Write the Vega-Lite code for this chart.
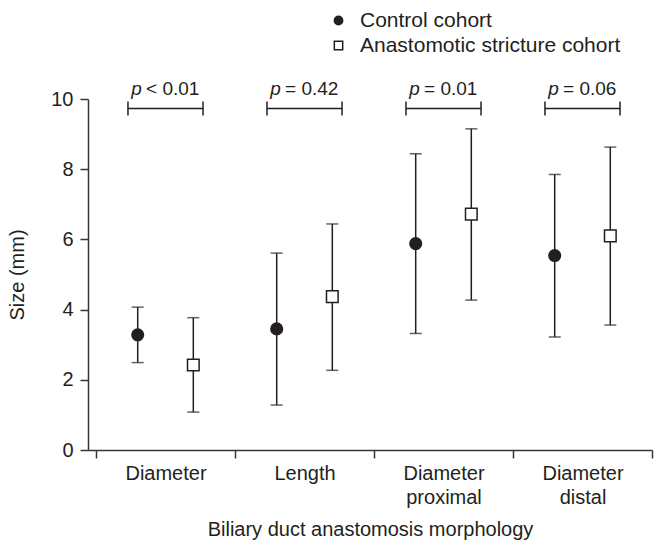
{
  "$schema": "https://vega.github.io/schema/vega-lite/v6.json",
  "width": 564,
  "height": 351,
  "autosize": {"type": "none"},
  "padding": {"left": 88, "top": 99, "right": 2, "bottom": 96},
  "config": {
    "font": "Liberation Sans",
    "view": {"stroke": null},
    "axis": {
      "labelFont": "Liberation Sans",
      "titleFont": "Liberation Sans",
      "labelFontSize": 20,
      "titleFontSize": 20,
      "titleFontWeight": "normal",
      "labelColor": "#231f20",
      "titleColor": "#231f20",
      "domainColor": "#3b3436",
      "tickColor": "#3b3436",
      "domainWidth": 1.5,
      "tickWidth": 1.5,
      "tickSize": 8,
      "grid": false
    },
    "legend": {
      "orient": "none",
      "labelFontSize": 21,
      "labelColor": "#231f20",
      "labelFont": "Liberation Sans",
      "labelLimit": 0,
      "symbolSize": 70,
      "symbolStrokeWidth": 1.5,
      "rowPadding": 3,
      "labelOffset": 11
    }
  },
  "datasets": {
    "stats": [
      {"morph": "Diameter", "cohort": "Control cohort", "mean": 3.28, "low": 2.49, "high": 4.07},
      {"morph": "Diameter", "cohort": "Anastomotic stricture cohort", "mean": 2.42, "low": 1.08, "high": 3.77},
      {"morph": "Length", "cohort": "Control cohort", "mean": 3.45, "low": 1.28, "high": 5.61},
      {"morph": "Length", "cohort": "Anastomotic stricture cohort", "mean": 4.37, "low": 2.27, "high": 6.44},
      {"morph": "Diameter proximal", "cohort": "Control cohort", "mean": 5.88, "low": 3.32, "high": 8.44},
      {"morph": "Diameter proximal", "cohort": "Anastomotic stricture cohort", "mean": 6.72, "low": 4.27, "high": 9.15},
      {"morph": "Diameter distal", "cohort": "Control cohort", "mean": 5.54, "low": 3.22, "high": 7.85},
      {"morph": "Diameter distal", "cohort": "Anastomotic stricture cohort", "mean": 6.10, "low": 3.56, "high": 8.63}
    ],
    "pvals": [
      {"morph": "Diameter", "p": "< 0.01"},
      {"morph": "Length", "p": "= 0.42"},
      {"morph": "Diameter proximal", "p": "= 0.01"},
      {"morph": "Diameter distal", "p": "= 0.06"}
    ]
  },
  "layer": [
    {
      "data": {"name": "stats"},
      "mark": {"type": "rule", "color": "#231f20", "strokeWidth": 1.5},
      "encoding": {
        "x": {
          "field": "morph", "type": "nominal",
          "sort": ["Diameter", "Length", "Diameter proximal", "Diameter distal"],
          "scale": {"type": "band", "paddingInner": 0, "paddingOuter": 0.0288, "align": 1},
          "axis": {
            "title": "Biliary duct anastomosis morphology",
            "labelAngle": 0,
            "tickBand": "extent",
            "labelPadding": 5,
            "labelLineHeight": 24,
            "titlePadding": 12,
            "labelExpr": "split(datum.label, ' ')"
          }
        },
        "xOffset": {
          "field": "cohort", "type": "nominal",
          "sort": ["Control cohort", "Anastomotic stricture cohort"],
          "scale": {"paddingOuter": 0.25, "paddingInner": 0}
        },
        "y": {
          "field": "low", "type": "quantitative",
          "scale": {"domain": [0, 10], "nice": false},
          "axis": {"title": "Size (mm)", "values": [0, 2, 4, 6, 8, 10], "labelPadding": 7, "titlePadding": 23}
        },
        "y2": {"field": "high"}
      }
    },
    {
      "data": {"name": "stats"},
      "mark": {"type": "tick", "color": "#231f20", "thickness": 1.5, "size": 12, "orient": "horizontal"},
      "encoding": {
        "x": {"field": "morph", "type": "nominal", "sort": ["Diameter", "Length", "Diameter proximal", "Diameter distal"]},
        "xOffset": {"field": "cohort", "type": "nominal", "sort": ["Control cohort", "Anastomotic stricture cohort"]},
        "y": {"field": "low", "type": "quantitative"}
      }
    },
    {
      "data": {"name": "stats"},
      "mark": {"type": "tick", "color": "#231f20", "thickness": 1.5, "size": 12, "orient": "horizontal"},
      "encoding": {
        "x": {"field": "morph", "type": "nominal", "sort": ["Diameter", "Length", "Diameter proximal", "Diameter distal"]},
        "xOffset": {"field": "cohort", "type": "nominal", "sort": ["Control cohort", "Anastomotic stricture cohort"]},
        "y": {"field": "high", "type": "quantitative"}
      }
    },
    {
      "data": {"name": "stats"},
      "mark": {"type": "point", "size": 135, "strokeWidth": 1.5, "opacity": 1, "filled": false},
      "encoding": {
        "x": {"field": "morph", "type": "nominal", "sort": ["Diameter", "Length", "Diameter proximal", "Diameter distal"]},
        "xOffset": {"field": "cohort", "type": "nominal", "sort": ["Control cohort", "Anastomotic stricture cohort"]},
        "y": {"field": "mean", "type": "quantitative"},
        "shape": {
          "field": "cohort", "type": "nominal",
          "scale": {"domain": ["Control cohort", "Anastomotic stricture cohort"], "range": ["circle", "square"]},
          "legend": {"title": null, "orient": "none", "legendX": 240, "legendY": -89}
        },
        "fill": {
          "field": "cohort", "type": "nominal",
          "scale": {"domain": ["Control cohort", "Anastomotic stricture cohort"], "range": ["#231f20", "#ffffff"]},
          "legend": {"title": null, "orient": "none", "legendX": 240, "legendY": -89}
        },
        "stroke": {
          "field": "cohort", "type": "nominal",
          "scale": {"domain": ["Control cohort", "Anastomotic stricture cohort"], "range": ["#231f20", "#231f20"]},
          "legend": {"title": null, "orient": "none", "legendX": 240, "legendY": -89}
        }
      }
    },
    {
      "data": {"name": "pvals"},
      "mark": {"type": "rule", "color": "#231f20", "strokeWidth": 1.5},
      "encoding": {
        "x": {"field": "morph", "type": "nominal", "sort": ["Diameter", "Length", "Diameter proximal", "Diameter distal"], "bandPosition": 0.23},
        "x2": {"field": "morph", "bandPosition": 0.77},
        "y": {"datum": 9.73}
      }
    },
    {
      "data": {"name": "pvals"},
      "mark": {"type": "rule", "color": "#231f20", "strokeWidth": 1.5},
      "encoding": {
        "x": {"field": "morph", "type": "nominal", "sort": ["Diameter", "Length", "Diameter proximal", "Diameter distal"], "bandPosition": 0.23},
        "y": {"datum": 9.53},
        "y2": {"datum": 9.93}
      }
    },
    {
      "data": {"name": "pvals"},
      "mark": {"type": "rule", "color": "#231f20", "strokeWidth": 1.5},
      "encoding": {
        "x": {"field": "morph", "type": "nominal", "sort": ["Diameter", "Length", "Diameter proximal", "Diameter distal"], "bandPosition": 0.77},
        "y": {"datum": 9.53},
        "y2": {"datum": 9.93}
      }
    },
    {
      "data": {"name": "pvals"},
      "mark": {"type": "text", "text": "p", "fontStyle": "italic", "fontSize": 19, "align": "right", "baseline": "alphabetic", "color": "#231f20", "font": "Liberation Sans"},
      "encoding": {
        "x": {"field": "morph", "type": "nominal", "sort": ["Diameter", "Length", "Diameter proximal", "Diameter distal"], "bandPosition": 0.33},
        "y": {"datum": 10.1}
      }
    },
    {
      "data": {"name": "pvals"},
      "mark": {"type": "text", "fontSize": 19, "align": "left", "baseline": "alphabetic", "color": "#231f20", "font": "Liberation Sans"},
      "encoding": {
        "x": {"field": "morph", "type": "nominal", "sort": ["Diameter", "Length", "Diameter proximal", "Diameter distal"], "bandPosition": 0.36},
        "y": {"datum": 10.1},
        "text": {"field": "p"}
      }
    }
  ]
}
